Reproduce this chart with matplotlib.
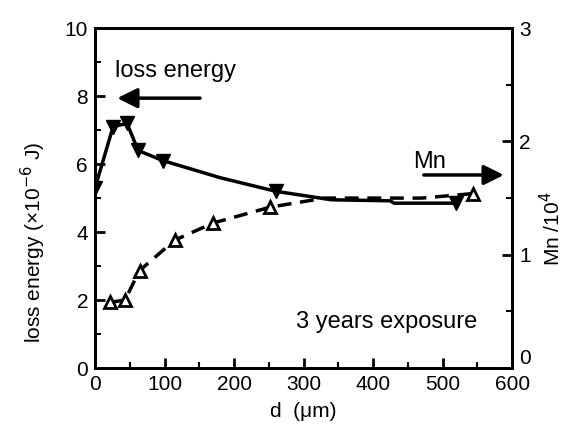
import matplotlib.pyplot as plt
from matplotlib.ticker import MultipleLocator

plt.rcParams['font.family'] = ['Liberation Sans', 'DejaVu Sans']

# loss energy (x10^-6 J) vs depth d (um)
d_loss = [0, 26, 46, 62, 98, 180, 260, 340, 425, 430, 519]
loss = [5.3, 7.1, 7.2, 6.4, 6.1, 5.6, 5.2, 4.95, 4.92, 4.85, 4.85]
loss_marked = [0, 1, 2, 3, 4, 6, 10]

# Mn (/10^4) vs depth d (um)
d_mn = [22, 43, 64, 115, 170, 252, 330, 470, 544]
mn = [0.58, 0.60, 0.86, 1.13, 1.28, 1.42, 1.50, 1.50, 1.54]
mn_marked = [0, 1, 2, 3, 4, 5, 8]

fig = plt.figure(figsize=(5.69, 4.26), dpi=100)
ax = fig.add_axes([0.167, 0.136, 0.733, 0.798])
ax2 = ax.twinx()

ax.plot(d_loss, loss, color='black', lw=2.5, marker='v', ms=10,
        markevery=loss_marked)
ax2.plot(d_mn, mn, color='black', lw=2.5, ls=(0, (4, 2.5)), marker='^', ms=8,
         mfc='white', mew=2, markevery=mn_marked)

ax.set_xlim(0, 600)
ax.set_ylim(0, 10)
ax2.set_ylim(0, 3)
ax.xaxis.set_major_locator(MultipleLocator(100))
ax.xaxis.set_minor_locator(MultipleLocator(50))
ax.yaxis.set_major_locator(MultipleLocator(2))
ax.yaxis.set_minor_locator(MultipleLocator(1))
ax2.set_yticks([0, 1, 2, 3])
ax2.yaxis.set_minor_locator(MultipleLocator(0.5))

for a in (ax, ax2):
    a.tick_params(direction='in', which='major', length=7, width=2,
                  labelsize=15, pad=5)
    a.tick_params(direction='in', which='minor', length=4, width=1.5)
    for s in a.spines.values():
        s.set_linewidth(2)

# right-hand "0" sits a little above the corner
ax2.get_yticklabels()[0].set_verticalalignment('bottom')

ax.set_xlabel('d  (μm)', fontsize=15, labelpad=6)
ax.set_ylabel('loss energy (×10$^{-6}$ J)', fontsize=15, labelpad=12)
ax.yaxis.label.set_y(0.37)
ax2.set_ylabel('Mn /10$^4$', fontsize=15, labelpad=6)
ax2.yaxis.label.set_y(0.41)

ax.text(29, 8.56, 'loss energy', fontsize=17)
ax.annotate('', xy=(28, 7.94), xytext=(155, 7.94),
            arrowprops=dict(arrowstyle='-|>', color='black', lw=2.5,
                            mutation_scale=30))
ax.text(457, 5.88, 'Mn', fontsize=17)
ax.annotate('', xy=(592, 5.68), xytext=(469, 5.68),
            arrowprops=dict(arrowstyle='-|>', color='black', lw=2.5,
                            mutation_scale=30))
ax.text(289, 1.18, '3 years exposure', fontsize=17)

fig.savefig('out.png', dpi=100)
